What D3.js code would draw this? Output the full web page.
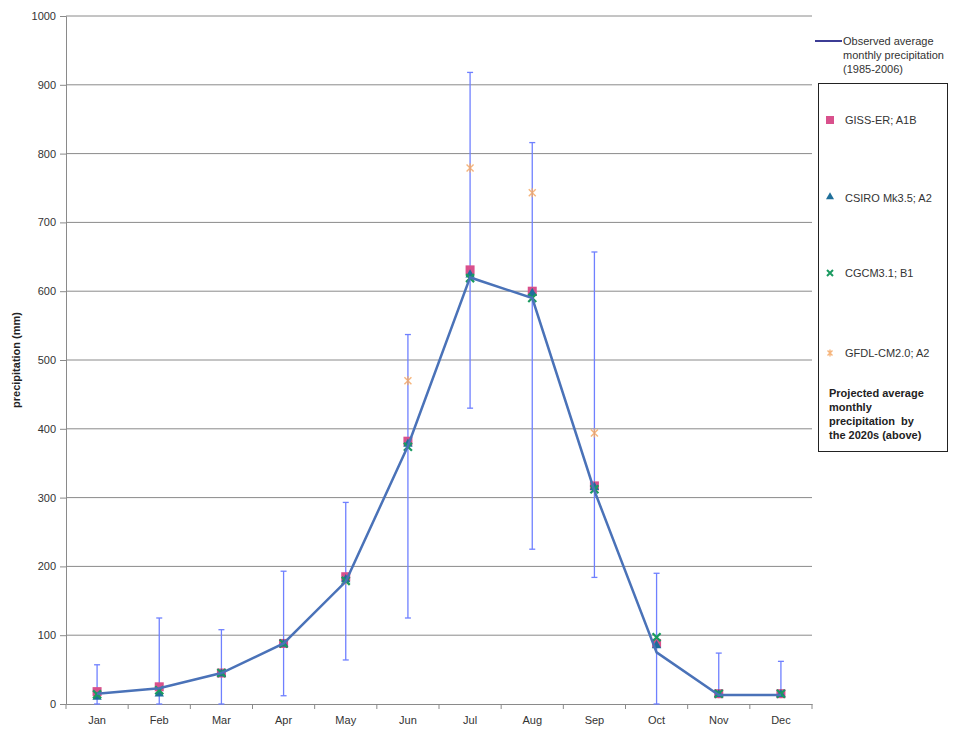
<!DOCTYPE html>
<html>
<head>
<meta charset="utf-8">
<script src="https://cdn.jsdelivr.net/npm/d3@7"></script>
<style>
body{margin:0;background:#fff;}
text{font-family:"Liberation Sans",Arial,sans-serif;}
</style>
</head>
<body>
<svg id="chart" width="956" height="730"></svg>
<script>
var months=["Jan","Feb","Mar","Apr","May","Jun","Jul","Aug","Sep","Oct","Nov","Dec"];
var observed=[15,23,45,88,178,375,620,590,310,75,13,13];
var rangeLow=[0,0,0,12,64,125,430,225,184,0,13,13];
var rangeHigh=[57,125,108,193,293,537,918,816,657,190,74,62];
var gissER=[18,25,45,88,185,382,631,600,317,88,15,15];
var csiro=[10,15,44,87,181,378,624,597,315,85,14,14];
var cgcm=[14,20,45,88,179,374,619,590,312,97,15,15];
var gfdl=[15,20,45,88,180,470,779,743,394,88,15,15];
var yTicks=[0,100,200,300,400,500,600,700,800,900,1000];

var svg=d3.select("#chart");
var plotLeft=66,plotRight=812,plotTop=16,plotBottom=704;

var xScale=d3.scaleBand().domain(months).range([plotLeft,plotRight]);
var yScale=d3.scaleLinear().domain([0,1000]).range([plotBottom,plotTop]);
var cx=d=>xScale(d)+xScale.bandwidth()/2;

// grid
svg.append("g")
.selectAll("line")
.data(yTicks.filter(d=>d>0))
.enter()
.append("line")
.attr("x1",plotLeft).attr("x2",plotRight)
.attr("y1",d=>yScale(d)).attr("y2",d=>yScale(d))
.attr("stroke","#8a8a8a").attr("stroke-width",1);

// axes
var yAxis=d3.axisLeft(yScale).tickValues(yTicks).tickSize(6).tickPadding(4).tickFormat(d3.format("d"));
var gy=svg.append("g").attr("transform","translate("+plotLeft+",0)").call(yAxis);
var xAxis=d3.axisBottom(xScale).tickSize(0).tickPadding(12);
var gx=svg.append("g").attr("transform","translate(0,"+plotBottom+")").call(xAxis);
[gy,gx].forEach(g=>{
	g.select(".domain").attr("stroke","#8a8a8a");
	g.selectAll(".tick line").attr("stroke","#8a8a8a");
	g.selectAll("text").attr("fill","#333").attr("font-size","11px").attr("font-family","Liberation Sans, Arial, sans-serif");
});
// category separator ticks
svg.append("g")
.selectAll("line")
.data(months.concat(["end"]))
.enter()
.append("line")
.attr("x1",(d,i)=>plotLeft+i*xScale.bandwidth())
.attr("x2",(d,i)=>plotLeft+i*xScale.bandwidth())
.attr("y1",plotBottom).attr("y2",plotBottom+5)
.attr("stroke","#8a8a8a");

svg.append("text")
.attr("transform","translate(20,"+((plotTop+plotBottom)/2)+") rotate(-90)")
.attr("text-anchor","middle")
.attr("font-size","11px").attr("font-weight","bold").attr("fill","#222")
.text("precipitation (mm)");

// error bars
var eb=svg.append("g").selectAll("g").data(months).enter().append("g")
.attr("stroke","#6f80ff").attr("stroke-width",1.3);
eb.append("line")
.attr("x1",d=>cx(d)).attr("x2",d=>cx(d))
.attr("y1",(d,i)=>yScale(rangeLow[i])).attr("y2",(d,i)=>yScale(rangeHigh[i]));
eb.append("line")
.attr("x1",d=>cx(d)-3).attr("x2",d=>cx(d)+3)
.attr("y1",(d,i)=>yScale(rangeHigh[i])).attr("y2",(d,i)=>yScale(rangeHigh[i]));
eb.append("line")
.attr("x1",d=>cx(d)-3).attr("x2",d=>cx(d)+3)
.attr("y1",(d,i)=>yScale(rangeLow[i])).attr("y2",(d,i)=>yScale(rangeLow[i]));

// GFDL asterisk
function drawAsterisk(g,x,y,s){
	g.append("path")
	.attr("d",`M${x-s},${y-s}L${x+s},${y+s}M${x-s},${y+s}L${x+s},${y-s}M${x},${y-s-1}L${x},${y+s+1}`)
	.attr("stroke","#f5a865").attr("stroke-width",1.4).attr("fill","none").attr("opacity",0.85);
}
var gG=svg.append("g");
months.forEach((m,i)=>drawAsterisk(gG,cx(m),yScale(gfdl[i]),3.5));

// GISS squares
svg.append("g").selectAll("rect").data(months).enter().append("rect")
.attr("x",d=>cx(d)-4.5).attr("y",(d,i)=>yScale(gissER[i])-4.5)
.attr("width",9).attr("height",9).attr("fill","#d9508c");

// CSIRO triangles
var tri=d3.symbol().type(d3.symbolTriangle).size(38);
svg.append("g").selectAll("path").data(months).enter().append("path")
.attr("d",tri)
.attr("transform",(d,i)=>"translate("+cx(d)+","+yScale(csiro[i])+")")
.attr("fill","#1f6f9a");

// CGCM crosses
svg.append("g").selectAll("path").data(months).enter().append("path")
.attr("d",(d,i)=>{let x=cx(d),y=yScale(cgcm[i]),s=4;return `M${x-s},${y-s}L${x+s},${y+s}M${x-s},${y+s}L${x+s},${y-s}`})
.attr("stroke","#1a9a60").attr("stroke-width",2.2).attr("fill","none");

// observed line
var line=d3.line().x((d,i)=>cx(months[i])).y(d=>yScale(d));
svg.append("path").datum(observed)
.attr("d",line).attr("fill","none")
.attr("stroke","#4a72b8").attr("stroke-width",2.5);

// legend
var lg=svg.append("g").attr("font-size","11px").attr("fill","#333");
lg.append("line").attr("x1",815).attr("x2",842).attr("y1",41).attr("y2",41)
.attr("stroke","#3c3c95").attr("stroke-width",2);
["Observed average","monthly precipitation","(1985-2006)"].forEach((t,i)=>{
	lg.append("text").attr("x",843).attr("y",45+i*14).attr("fill","#333").text(t);
});
lg.append("rect").attr("x",818.5).attr("y",83.5).attr("width",129).attr("height",368)
.attr("fill","none").attr("stroke","#222").attr("stroke-width",1);

lg.append("rect").attr("x",826).attr("y",116).attr("width",8).attr("height",8).attr("fill","#d9508c");
lg.append("text").attr("x",845).attr("y",124).attr("fill","#333").text("GISS-ER; A1B");
lg.append("path").attr("d",d3.symbol().type(d3.symbolTriangle).size(28)).attr("transform","translate(830,197)").attr("fill","#1f6f9a");
lg.append("text").attr("x",845).attr("y",202).attr("fill","#333").text("CSIRO Mk3.5; A2");
lg.append("path").attr("d","M827,270L833,276M827,276L833,270").attr("stroke","#1a9a60").attr("stroke-width",2);
lg.append("text").attr("x",845).attr("y",277).attr("fill","#333").text("CGCM3.1; B1");
drawAsterisk(lg,830,353,2.5);
lg.append("text").attr("x",845).attr("y",357).attr("fill","#333").text("GFDL-CM2.0; A2");
["Projected average","monthly","precipitation  by","the 2020s (above)"].forEach((t,i)=>{
	lg.append("text").attr("x",829).attr("y",397+i*14).attr("font-weight","bold").attr("fill","#222").attr("xml:space","preserve").text(t);
});
</script>
</body>
</html>
